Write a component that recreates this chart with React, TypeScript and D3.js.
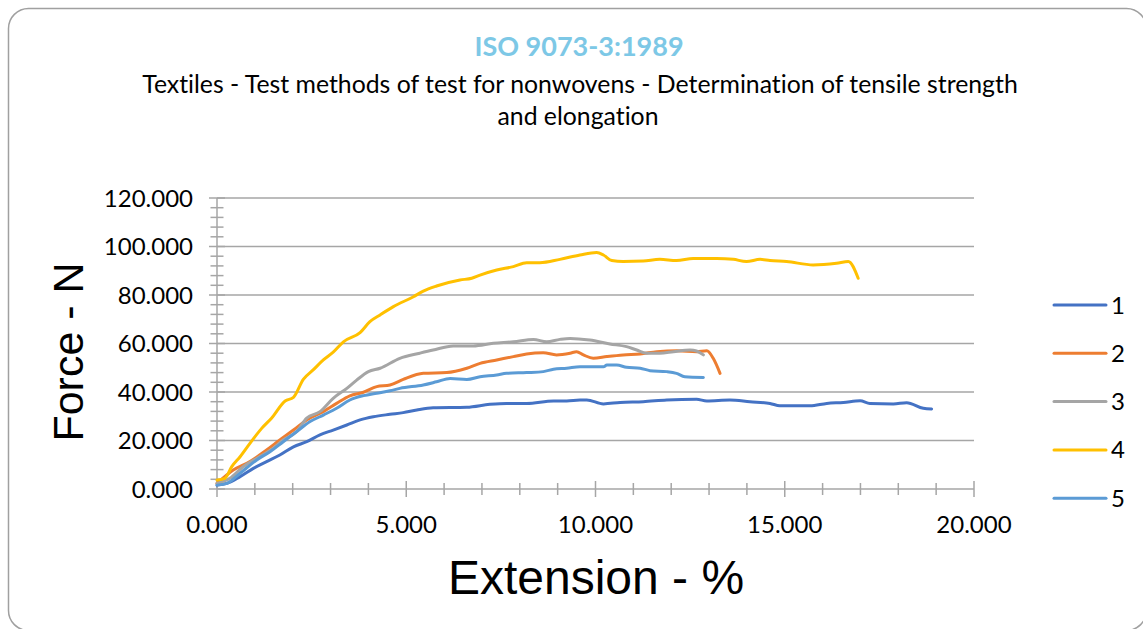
import React from "react";
import * as d3 from "d3";

// Tensile test curves: extension (%) vs force (N) for five specimens
const ext1 = [0, 0.26, 0.61, 0.96, 1.31, 1.66, 2.02, 2.37, 2.72, 3.07, 3.43, 3.78, 4.13, 4.57, 4.92, 5.28, 5.71, 6.6, 7.21, 7.65, 8.18, 8.89, 9.24, 9.59, 9.77, 10.21, 10.65, 11.26, 11.88, 12.67, 12.94, 13.55, 14.08, 14.61, 14.87, 15.23, 15.67, 16.11, 16.55, 16.99, 17.25, 17.87, 18.22, 18.66, 18.88];
const force1 = [1.6, 2.3, 5.1, 8.5, 11.3, 14.0, 17.4, 19.5, 22.3, 24.3, 26.4, 28.5, 29.8, 30.8, 31.5, 32.6, 33.5, 33.7, 34.9, 35.3, 35.3, 36.3, 36.3, 36.7, 36.7, 35.1, 35.7, 36.0, 36.7, 37.0, 36.3, 36.7, 36.0, 35.3, 34.3, 34.3, 34.3, 35.3, 35.7, 36.4, 35.3, 35.1, 35.6, 33.3, 33.0];

const ext2 = [0, 0.43, 0.87, 1.31, 1.66, 2.02, 2.37, 2.81, 3.16, 3.51, 3.87, 4.22, 4.57, 4.92, 5.45, 6.07, 6.6, 6.95, 7.39, 7.83, 8.18, 8.62, 8.97, 9.33, 9.5, 9.68, 9.94, 10.3, 10.73, 11.18, 11.62, 12.15, 12.67, 12.94, 13.11, 13.29];
const force2 = [2.3, 7.8, 11.3, 16.1, 20.2, 24.3, 28.5, 31.9, 35.3, 38.4, 39.9, 42.2, 42.9, 45.2, 47.7, 48.0, 49.8, 51.8, 53.2, 54.6, 55.7, 56.2, 55.3, 56.0, 56.6, 55.3, 53.9, 54.6, 55.3, 55.7, 56.6, 57.0, 56.6, 57.0, 53.9, 47.7];

const ext3 = [0, 0.34, 0.69, 1.05, 1.49, 1.75, 2.1, 2.37, 2.72, 3.07, 3.43, 3.69, 4.0, 4.31, 4.83, 5.36, 5.71, 6.24, 6.77, 7.3, 7.83, 8.36, 8.71, 9.06, 9.33, 9.85, 10.38, 10.82, 11.09, 11.35, 11.7, 12.06, 12.5, 12.67, 12.85];
const force3 = [2.3, 4.4, 9.2, 12.6, 16.8, 20.2, 23.6, 29.2, 31.9, 37.4, 41.5, 44.9, 48.4, 49.8, 53.9, 56.0, 57.3, 59.0, 59.0, 60.1, 60.7, 61.7, 60.7, 61.7, 62.1, 61.4, 59.8, 58.7, 57.3, 56.0, 56.0, 56.6, 57.3, 56.9, 55.3];

const ext4 = [0, 0.21, 0.39, 0.61, 0.87, 1.18, 1.44, 1.8, 2.02, 2.28, 2.54, 2.81, 3.07, 3.34, 3.78, 4.04, 4.31, 4.66, 5.19, 5.45, 5.8, 6.42, 6.73, 6.95, 7.39, 7.83, 8.18, 8.53, 9.06, 9.59, 10.03, 10.21, 10.43, 10.73, 11.26, 11.7, 12.14, 12.58, 13.2, 13.64, 13.99, 14.35, 14.61, 15.05, 15.75, 16.37, 16.68, 16.94];
const force4 = [3.7, 4.4, 9.2, 13.3, 18.8, 25.0, 29.2, 36.3, 37.8, 45.2, 49.1, 53.2, 56.4, 60.7, 64.5, 69.0, 71.8, 75.2, 79.3, 81.6, 83.7, 86.2, 86.9, 88.2, 90.3, 91.7, 93.3, 93.3, 94.7, 96.5, 97.5, 96.5, 94.2, 93.8, 94.0, 94.7, 94.2, 95.1, 95.1, 94.7, 93.8, 94.7, 94.2, 93.8, 92.4, 93.1, 93.8, 86.9];

const ext5 = [0, 0.26, 0.61, 1.05, 1.4, 1.75, 2.1, 2.46, 2.81, 3.16, 3.51, 3.87, 4.22, 4.57, 4.83, 5.45, 5.8, 6.16, 6.6, 6.95, 7.39, 7.65, 8.18, 8.62, 8.89, 9.24, 9.59, 9.85, 10.21, 10.3, 10.56, 10.82, 11.18, 11.44, 11.88, 12.14, 12.36, 12.85];
const force5 = [1.6, 2.3, 6.5, 12.0, 15.4, 19.5, 23.6, 27.8, 30.5, 33.3, 36.7, 38.5, 39.5, 40.5, 41.5, 42.9, 44.2, 45.6, 45.2, 46.3, 47.0, 47.7, 48.0, 48.4, 49.4, 49.8, 50.4, 50.4, 50.4, 51.1, 51.1, 50.2, 49.8, 48.8, 48.4, 47.7, 46.3, 46.0];

const seriesNames = ["1", "2", "3", "4", "5"];
const seriesColors = ["#4472C4", "#ED7D31", "#A5A5A5", "#FFC000", "#5B9BD5"];
const xTicks = [0, 5, 10, 15, 20];
const yTicks = [0, 20, 40, 60, 80, 100, 120];

const TITLE = "ISO 9073-3:1989";
const SUBTITLE_1 = "Textiles - Test methods of test for nonwovens - Determination of tensile strength";
const SUBTITLE_2 = "and elongation";

const W = 1143;
const H = 629;
const LABEL_FONT = "Lato, 'Open Sans', sans-serif";
const AXIS_FONT = "'Liberation Sans', Arial, sans-serif";
const noLig = { fontVariantLigatures: "none" as const };

export default function App() {
  const x = d3.scaleLinear().domain([0, 20]).range([217, 974]);
  const y = d3.scaleLinear().domain([0, 120]).range([489, 198]);

  const series = [
    { ext: ext1, force: force1 },
    { ext: ext2, force: force2 },
    { ext: ext3, force: force3 },
    { ext: ext4, force: force4 },
    { ext: ext5, force: force5 },
  ].map((s, i) => ({
    name: seriesNames[i],
    color: seriesColors[i],
    points: s.ext.map((e, j) => [e, s.force[j]] as [number, number]),
  }));

  const line = d3
    .line<[number, number]>()
    .x((d) => x(d[0]))
    .y((d) => y(d[1]))
    .curve(d3.curveMonotoneX);

  const xMinor = d3.range(0, 21, 1);
  const yMinor = d3.range(0, 121, 4);
  const fmt = d3.format(".3f");
  const x0 = x(0);
  const y0 = y(0);
  const axisColor = "#a6a6a6";

  return (
    <svg width={W} height={H} style={{ display: "block", position: "absolute", left: 0, top: 0 }}>
      <rect x={0} y={0} width={W} height={H} fill="#ffffff" />
      <rect x={8.5} y={8.5} width={1138} height={622} rx={20} ry={20} fill="#ffffff" stroke="#a0a0a0" strokeWidth={1.5} />

      {/* titles */}
      <text x={579} y={56} textAnchor="middle" fontFamily={LABEL_FONT} fontWeight="bold" fontSize={27} fill="#7DC8E6" style={noLig}>
        {TITLE}
      </text>
      <text x={580} y={93} textAnchor="middle" fontFamily={LABEL_FONT} fontSize={24.8} fill="#000" style={noLig}>
        {SUBTITLE_1}
      </text>
      <text x={578} y={125} textAnchor="middle" fontFamily={LABEL_FONT} fontSize={24.8} fill="#000" style={noLig}>
        {SUBTITLE_2}
      </text>

      {/* gridlines */}
      {yTicks.slice(1).map((t) => (
        <line key={`g${t}`} x1={x0} x2={x(20)} y1={y(t)} y2={y(t)} stroke={axisColor} strokeWidth={1.5} />
      ))}

      {/* axes */}
      <line x1={x0} x2={x(20)} y1={y0} y2={y0} stroke={axisColor} strokeWidth={1.5} />
      <line x1={x0} x2={x0} y1={y(120)} y2={y0} stroke={axisColor} strokeWidth={1.5} />
      {xMinor.map((t) => {
        const major = t % 5 === 0;
        return (
          <line key={`xt${t}`} x1={x(t)} x2={x(t)} y1={y0 - (major ? 8 : 6)} y2={y0 + (major ? 8 : 6)} stroke={axisColor} strokeWidth={1.5} />
        );
      })}
      {yMinor.map((t) => {
        const major = t % 20 === 0;
        return (
          <line key={`yt${t}`} x1={x0 - (major ? 8 : 6.5)} x2={x0 + (major ? 8 : 6.5)} y1={y(t)} y2={y(t)} stroke={axisColor} strokeWidth={1.5} />
        );
      })}

      {/* tick labels */}
      {yTicks.map((t) => (
        <text key={`yl${t}`} x={193} y={y(t) + 8.5} textAnchor="end" fontFamily={LABEL_FONT} fontSize={24} fill="#000">
          {fmt(t)}
        </text>
      ))}
      {xTicks.map((t) => (
        <text key={`xl${t}`} x={x(t)} y={533} textAnchor="middle" fontFamily={LABEL_FONT} fontSize={24} fill="#000">
          {fmt(t)}
        </text>
      ))}

      {/* axis titles */}
      <text x={596} y={594} textAnchor="middle" fontFamily={AXIS_FONT} fontSize={48} fill="#000">
        Extension - %
      </text>
      <text transform="translate(83,352) rotate(-90)" textAnchor="middle" fontFamily={AXIS_FONT} fontSize={43} fill="#000">
        Force - N
      </text>

      {/* data */}
      {series.map((s) => (
        <path key={`s${s.name}`} d={line(s.points) || ""} fill="none" stroke={s.color} strokeWidth={3} strokeLinejoin="round" strokeLinecap="round" />
      ))}

      {/* legend */}
      {series.map((s, i) => {
        const ly = 305 + i * 48.3;
        return (
          <g key={`lg${s.name}`}>
            <line x1={1054} x2={1106} y1={ly} y2={ly} stroke={s.color} strokeWidth={3} strokeLinecap="round" />
            <text x={1111} y={ly + 8.5} fontFamily={LABEL_FONT} fontSize={24} fill="#000">
              {s.name}
            </text>
          </g>
        );
      })}
    </svg>
  );
}
